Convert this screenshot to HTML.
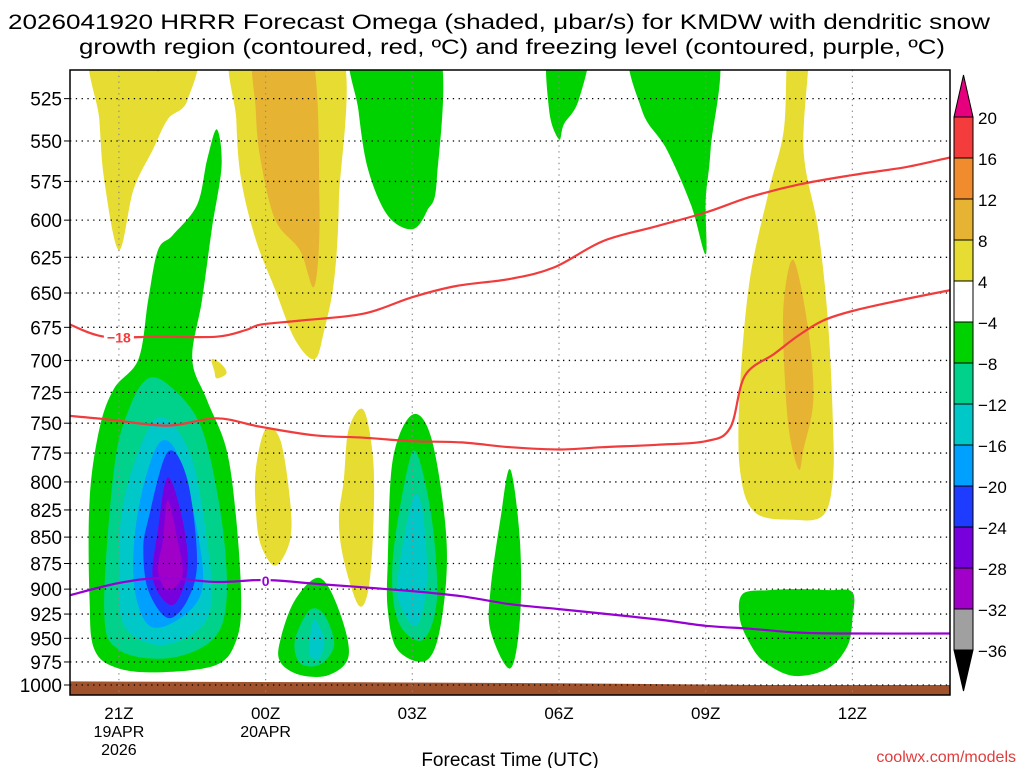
<!DOCTYPE html>
<html><head><meta charset="utf-8"><style>
html,body{margin:0;padding:0;background:#fff;}
svg{display:block;font-family:"Liberation Sans","DejaVu Sans",sans-serif;}
</style></head><body>
<svg id="chart" width="1024" height="768" viewBox="0 0 1024 768">
<text x="499" y="29" font-size="21" text-anchor="middle" textLength="982" lengthAdjust="spacingAndGlyphs">2026041920 HRRR Forecast Omega (shaded, μbar/s) for KMDW with dendritic snow</text>
<text x="512" y="54" font-size="21" text-anchor="middle" textLength="866" lengthAdjust="spacingAndGlyphs">growth region (contoured, red, ºC) and freezing level (contoured, purple, ºC)</text>
<defs><clipPath id="plotclip"><rect x="70" y="70" width="880" height="625"/></clipPath></defs>
<g id="shading" clip-path="url(#plotclip)"></g>
<g id="grid"></g>
<g id="contours" clip-path="url(#plotclip)"></g>
<rect x="70" y="70" width="880" height="625" fill="none" stroke="#000" stroke-width="1.5"/>
<g id="yaxis"></g>
<g id="xaxis"></g>
<text x="510" y="766" font-size="19" text-anchor="middle">Forecast Time (UTC)</text>
<text x="1016" y="762" font-size="16" text-anchor="end" fill="#e03c3c">coolwx.com/models</text>
<g id="colorbar"></g>
</svg>
<script>
const pressureTicks=[525,550,575,600,625,650,675,700,725,750,775,800,825,850,875,900,925,950,975,1000];
const timeTickHours=[1,4,7,10,13,16];
const timeTickLabels=["21Z","00Z","03Z","06Z","09Z","12Z"];
const dateLabels=[["19APR","2026"],["20APR",""],["",""],["",""],["",""],["",""]];
const cbLevels=[20,16,12,8,4,-4,-8,-12,-16,-20,-24,-28,-32,-36];
const cbColors=["#f53c3c","#f08c2d","#e6b432","#e6dc32","#ffffff","#00d200","#00d28c","#00c8c8","#00a0ff","#1e3cff","#7800dc","#a000c8","#a0a0a0"];
const dgzTop=[[0,673],[0.7,682],[1.8,682],[3.0,682],[3.6,677],[3.9,673],[4.7,670],[6.0,665],[7.0,653],[7.9,645],[9.0,640],[9.9,632],[10.9,614],[12.0,604],[13.0,595],[13.9,585],[14.9,577],[16.0,571],[17.1,566],[18,560]];
const dgzBottom=[[0,744],[0.8,747],[2.0,752],[3.0,746],[3.9,753],[5.0,760],[6.0,762],[7.0,765],[8.0,766],[9.0,770],[10.0,772],[10.9,770],[12.0,768],[13.0,765],[13.5,754],[13.8,712],[14.4,695],[14.9,681],[15.4,670],[16.0,663],[17.0,655],[18,648]];
const freezingLevel=[[0,906],[1.0,894],[1.9,889],[3.0,893],[4.0,891],[5.1,895],[7.0,902],[8.0,907],[9.0,915],[10.0,920],[11.0,925],[12.1,931],[13.0,937],[13.9,940],[14.9,944],[16.0,945],[18,945]];
const shadedRegions=[
[3,[[0.5,495],[2.5,495],[2.4,526],[2.0,537],[1.7,555],[1.3,580],[1.0,620],[0.7,574],[0.6,537]]],
[2,[[1.65,495],[1.95,495],[1.85,508],[1.75,508]]],
[3,[[3.4,495],[5.5,495],[5.5,587],[5.4,641],[5.2,677],[5.0,699],[4.6,684],[4.2,648],[3.8,613],[3.5,574],[3.4,537]]],
[2,[[3.8,495],[4.9,495],[5.1,587],[5.0,645],[4.7,620],[4.2,600],[3.9,562],[3.8,532]]],
[3,[[2.9,699],[3.1,703],[3.2,710],[3.0,714],[2.95,708]]],
[3,[[3.8,789],[4.0,755],[4.3,764],[4.5,816],[4.5,853],[4.2,877],[3.9,857],[3.8,824]]],
[3,[[5.6,798],[5.7,755],[6.0,739],[6.2,781],[6.2,843],[6.1,901],[5.9,916],[5.6,872],[5.5,834]]],
[3,[[14.7,495],[15.1,495],[15.0,555],[15.3,606],[15.5,670],[15.6,747],[15.6,798],[15.4,830],[14.8,834],[14.0,827],[13.7,789],[13.7,722],[13.9,641],[14.3,580],[14.6,543]]],
[2,[[14.8,627],[15.1,677],[15.2,731],[15.0,772],[14.9,789],[14.7,755],[14.6,699],[14.6,655]]],
[5,[[0.4,911],[0.4,816],[0.6,755],[0.9,722],[1.4,699],[1.6,655],[1.8,620],[2.1,610],[2.6,590],[2.8,562],[3.0,543],[3.1,565],[2.9,606],[2.7,655],[2.5,699],[2.8,731],[3.2,772],[3.4,834],[3.5,911],[3.4,952],[3.0,978],[1.9,986],[1.0,982],[0.5,962]]],
[6,[[0.9,789],[1.2,739],[1.6,714],[2.1,722],[2.7,755],[3.1,834],[3.2,911],[2.9,952],[2.0,971],[1.0,962],[0.7,921]]],
[7,[[1.1,816],[1.6,755],[2.0,747],[2.5,781],[2.8,853],[2.9,911],[2.6,942],[1.8,957],[1.1,936],[1.0,882]]],
[8,[[1.4,824],[1.8,768],[2.2,776],[2.6,843],[2.7,901],[2.2,931],[1.6,936],[1.3,891]]],
[9,[[1.6,834],[2.0,774],[2.4,798],[2.6,872],[2.4,911],[2.0,929],[1.6,901],[1.5,862]]],
[10,[[1.8,843],[2.0,796],[2.3,834],[2.4,882],[2.1,916],[1.7,891]]],
[11,[[1.9,853],[2.0,816],[2.2,853],[2.3,886],[2.0,901],[1.8,882]]],
[5,[[4.3,952],[4.6,911],[5.1,889],[5.5,921],[5.7,968],[5.3,989],[4.7,989],[4.3,975]]],
[6,[[4.6,952],[4.9,921],[5.2,926],[5.4,957],[5.1,978],[4.7,976]]],
[7,[[4.9,952],[5.0,931],[5.2,952],[5.1,971],[4.9,968]]],
[5,[[6.5,872],[6.6,781],[7.0,743],[7.4,764],[7.7,853],[7.6,931],[7.3,973],[6.7,962],[6.5,921]]],
[6,[[6.6,872],[6.9,789],[7.1,776],[7.4,834],[7.5,911],[7.2,952],[6.7,931]]],
[7,[[6.7,891],[7.0,816],[7.2,824],[7.3,891],[7.1,936],[6.8,921]]],
[5,[[8.6,901],[8.8,834],[9.0,789],[9.2,853],[9.2,931],[9.0,982],[8.6,942]]],
[5,[[5.8,495],[7.5,495],[7.5,574],[7.3,594],[7.0,606],[6.5,597],[6.1,568],[5.9,532]]],
[5,[[9.8,495],[10.6,495],[10.4,526],[10.1,540],[10.0,549],[9.8,532]]],
[5,[[11.5,495],[13.2,495],[13.1,555],[13.0,587],[13.0,623],[12.7,590],[12.2,555],[11.7,532]]],
[5,[[13.75,905],[14.3,901],[14.9,900],[15.5,901],[16.0,903],[16.0,930],[15.9,958],[15.5,982],[14.8,990],[14.2,975],[13.9,955],[13.7,930]]]
];
const groundSurface=[[0,996],[6,997],[10,998],[14,1000],[18,1000]];

const NS="http://www.w3.org/2000/svg";
const X0=70,HPX=48.9,Y1000=685,KP=910;
function xs(h){return X0+h*HPX;}
function ys(p){return Y1000+KP*Math.log(p/1000);}
function mk(tag,attrs,parent){const e=document.createElementNS(NS,tag);for(const k in attrs)e.setAttribute(k,attrs[k]);parent.appendChild(e);return e;}
function smoothClosed(pts){
  const P=pts.map(d=>[xs(d[0]),ys(d[1])]);const n=P.length;let s="M"+P[0][0].toFixed(1)+","+P[0][1].toFixed(1);
  for(let i=0;i<n;i++){const p0=P[(i-1+n)%n],p1=P[i],p2=P[(i+1)%n],p3=P[(i+2)%n];
    const c1=[p1[0]+(p2[0]-p0[0])/6,p1[1]+(p2[1]-p0[1])/6],c2=[p2[0]-(p3[0]-p1[0])/6,p2[1]-(p3[1]-p1[1])/6];
    s+="C"+c1.map(v=>v.toFixed(1))+" "+c2.map(v=>v.toFixed(1))+" "+p2.map(v=>v.toFixed(1));}
  return s+"Z";}
function smoothOpen(pts){
  const P=pts.map(d=>[xs(d[0]),ys(d[1])]);const n=P.length;let s="M"+P[0][0].toFixed(1)+","+P[0][1].toFixed(1);
  for(let i=0;i<n-1;i++){const p0=P[Math.max(i-1,0)],p1=P[i],p2=P[i+1],p3=P[Math.min(i+2,n-1)];
    const c1=[p1[0]+(p2[0]-p0[0])/6,p1[1]+(p2[1]-p0[1])/6],c2=[p2[0]-(p3[0]-p1[0])/6,p2[1]-(p3[1]-p1[1])/6];
    s+="C"+c1.map(v=>v.toFixed(1))+" "+c2.map(v=>v.toFixed(1))+" "+p2.map(v=>v.toFixed(1));}
  return s;}

const shading=document.getElementById('shading');
shadedRegions.forEach((r,i)=>{
  const el=mk('path',{d:smoothClosed(r[1]),fill:cbColors[r[0]]},shading);
  
  
});
const g=groundSurface.map(d=>xs(d[0]).toFixed(1)+","+ys(d[1]).toFixed(1)).join(" ");
const ground=mk('polygon',{points:g+" 950,700 70,700",fill:"#a0522d"},shading);



const grid=document.getElementById('grid'),yaxis=document.getElementById('yaxis'),xaxis=document.getElementById('xaxis');
pressureTicks.forEach(p=>{
  const y=ys(p);
  const ln=mk('line',{x1:70,x2:950,y1:y,y2:y,stroke:"#000","stroke-width":1.3,"stroke-dasharray":"1.3,4.5"},grid);
  
  
  const tk=mk('line',{x1:64,x2:70,y1:y,y2:y,stroke:"#000","stroke-width":1},yaxis);
  
  
  const t=mk('text',{x:62,y:y+7,"font-size":19,"text-anchor":"end"},yaxis);t.textContent=p;
  
  
});
timeTickHours.forEach((h,i)=>{
  const x=xs(h);
  const ln=mk('line',{x1:x,x2:x,y1:70,y2:695,stroke:"#888","stroke-width":1.2,"stroke-dasharray":"1.3,4.5"},grid);
  
  
  const t=mk('text',{x:x,y:719,"font-size":17,"text-anchor":"middle"},xaxis);t.textContent=timeTickLabels[i];
  
  
  dateLabels[i].forEach((s,j)=>{if(!s)return;const d=mk('text',{x:x,y:737+j*18,"font-size":16,"text-anchor":"middle"},xaxis);d.textContent=s;
    
    });
});
const contours=document.getElementById('contours');
function drawLine(data,color,name){const el=mk('path',{d:smoothOpen(data),fill:"none",stroke:color,"stroke-width":2.2},contours);
  
  }
drawLine(dgzTop,"#f03c3c","dgz-minus18-contour");
drawLine(dgzBottom,"#f03c3c","dgz-minus12-contour");
drawLine(freezingLevel,"#9600d2","freezing-level-contour");
function lbl(h,p,txt,color,name){const x=xs(h),y=ys(p);
  mk('rect',{x:x-(txt.length*5),y:y-8,width:txt.length*10,height:15,fill:"#fff"},contours);
  const t=mk('text',{x:x,y:y+6,"font-size":14,"font-weight":"bold","text-anchor":"middle",fill:color},contours);t.textContent=txt;
  
  }
lbl(dgzTop[1][0]+0.3,682,"−18","#f03c3c","contour-label-minus18");
lbl(freezingLevel[4][0],891,"0","#9600d2","contour-label-zero");

const cb=document.getElementById('colorbar');
const CBY=117,CBS=41,CBX=954,CBW=19;
const tu=mk('polygon',{points:`${CBX},${CBY} ${CBX+CBW},${CBY} ${CBX+CBW/2},75`,fill:"#e6007e",stroke:"#000"},cb);


cbColors.forEach((c,i)=>{const r=mk('rect',{x:CBX,y:CBY+i*CBS,width:CBW,height:CBS,fill:c,stroke:"#000","stroke-width":1},cb);
  
  });
const yb=CBY+cbColors.length*CBS;
const td=mk('polygon',{points:`${CBX},${yb} ${CBX+CBW},${yb} ${CBX+CBW/2},691`,fill:"#000",stroke:"#000"},cb);


cbLevels.forEach((v,i)=>{const t=mk('text',{x:978,y:CBY+i*CBS+7,"font-size":17},cb);t.textContent=v<0?"−"+(-v):String(v);
  
  });
</script>
</body></html>
